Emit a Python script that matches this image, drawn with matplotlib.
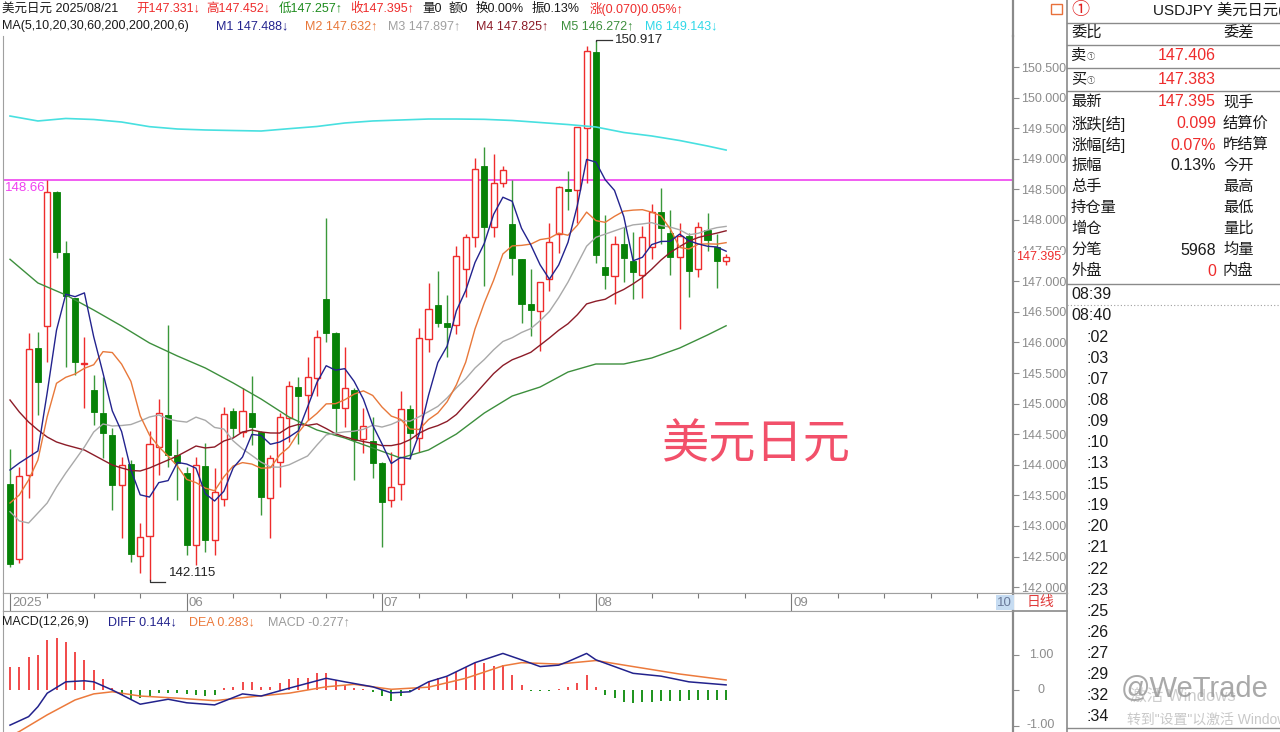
import numpy as np
import pandas as pd
import matplotlib
matplotlib.use("Agg")
import matplotlib.pyplot as plt
from matplotlib.patches import Rectangle
from matplotlib.lines import Line2D

plt.rcParams['font.family'] = ['Liberation Sans', 'Noto Sans CJK SC', 'DejaVu Sans']

# ---------------- data ----------------
opens = [143.681, 142.456, 143.833, 145.904, 146.268, 148.462, 147.466, 146.721, 145.647, 145.222,
         144.842, 144.487, 143.670, 144.008, 142.510, 142.842, 144.296, 144.814, 144.160, 143.861,
         142.690, 143.980, 142.771, 143.436, 144.884, 144.541, 144.851, 144.541, 143.462, 144.051,
         144.760, 145.276, 145.141, 145.423, 146.704, 146.158, 144.923, 145.222, 144.417, 144.394,
         144.025, 143.425, 143.681, 144.907, 144.433, 146.056, 146.611, 146.322, 146.284, 147.199,
         147.717, 148.882, 147.891, 148.609, 147.935, 147.358, 146.623, 146.513, 147.031, 147.766,
         148.502, 148.490, 149.508, 150.740, 147.227, 147.085, 147.608, 147.335, 147.101, 147.564,
         148.136, 147.792, 147.391, 147.739, 147.194, 147.837, 147.564, 147.331]
highs = [144.253, 143.969, 146.158, 146.175, 148.654, 148.470, 147.662, 146.730, 146.093, 145.467,
         145.440, 144.596, 144.132, 144.078, 143.054, 144.552, 145.070, 146.284, 144.417, 143.969,
         144.132, 144.361, 143.953, 144.949, 144.933, 145.250, 145.451, 144.550, 144.160, 144.851,
         145.374, 145.430, 145.766, 146.203, 148.028, 146.170, 145.930, 145.250, 144.923, 144.786,
         144.050, 144.214, 145.211, 144.977, 146.230, 146.966, 147.172, 146.775, 147.575, 147.766,
         149.008, 149.188, 149.078, 148.882, 148.654, 147.360, 147.194, 146.990, 147.946, 148.560,
         148.801, 149.520, 150.843, 150.917, 148.082, 147.739, 147.881, 147.809, 147.902, 148.261,
         148.518, 148.163, 147.956, 147.783, 147.972, 148.109, 147.771, 147.452]
lows = [142.335, 142.400, 143.453, 144.814, 145.685, 147.374, 145.603, 145.467, 144.923, 144.650,
        144.106, 143.261, 142.799, 142.417, 142.227, 142.115, 143.833, 143.969, 143.425, 142.526,
        142.363, 142.580, 142.526, 143.327, 144.459, 144.459, 144.324, 143.180, 142.799, 143.642,
        144.377, 144.335, 144.732, 145.124, 146.011, 144.515, 144.613, 143.752, 144.188, 143.779,
        142.662, 143.315, 143.425, 144.095, 144.214, 145.838, 146.257, 145.757, 146.132, 146.747,
        147.554, 146.917, 147.727, 148.544, 147.101, 146.312, 146.105, 145.859, 146.845, 147.466,
        148.163, 147.956, 148.600, 147.302, 146.868, 146.623, 146.992, 146.704, 146.730, 147.358,
        147.603, 147.101, 146.214, 146.747, 147.074, 147.498, 146.884, 147.257]
closes = [142.374, 143.817, 145.887, 145.358, 148.453, 147.482, 146.758, 145.685, 145.668, 144.868,
          144.515, 143.670, 143.997, 142.538, 142.825, 144.335, 144.851, 144.160, 144.025, 142.690,
          143.997, 142.771, 143.560, 144.825, 144.596, 144.884, 144.613, 143.479, 144.106, 144.776,
          145.288, 145.124, 145.440, 146.093, 146.149, 144.923, 145.250, 144.405, 144.634, 144.025,
          143.397, 143.642, 144.907, 144.515, 146.067, 146.541, 146.322, 146.247, 147.412, 147.717,
          148.828, 147.891, 148.609, 148.817, 147.384, 146.627, 146.529, 146.982, 147.645, 148.544,
          148.479, 149.515, 150.766, 147.428, 147.101, 147.608, 147.374, 147.155, 147.717, 148.136,
          147.864, 147.391, 147.739, 147.172, 147.881, 147.673, 147.330, 147.395]

# moving-average values visible before a full window is available
ma5_head = [143.915, 144.029, 144.127, 144.225]
ma10_head = [143.376, 143.507, 143.752, 144.078, 144.786, 145.332, 145.430, 145.484, 145.577]
ma20_head = [143.234, 143.082, 143.049, 143.212, 143.376, 143.637, 143.866, 144.078, 144.291, 144.536,
             144.667, 144.634, 144.642, 144.658, 144.716, 144.781, 144.814, 144.748, 144.716]
ma30_head = [145.059, 144.863, 144.699, 144.569, 144.454, 144.373, 144.324, 144.283, 144.242, 144.160,
             144.078, 143.997, 143.948, 143.907, 143.899, 143.948, 144.013, 144.078, 144.144, 144.225,
             144.307, 144.275, 144.291, 144.389, 144.438, 144.536, 144.569, 144.536, 144.520]
ma_sample_idx = [0, 3, 6, 9, 12, 15, 18, 21, 24, 27, 30, 33, 36, 39, 42, 45, 48, 51, 54, 57,
                 60, 63, 66, 69, 72, 75, 77]
ma60_vals = [147.358, 146.971, 146.775, 146.529, 146.268, 145.990, 145.778, 145.582, 145.337, 145.075,
             144.781, 144.569, 144.438, 144.275, 144.111, 144.242, 144.503, 144.846, 145.124, 145.271,
             145.516, 145.647, 145.647, 145.745, 145.908, 146.121, 146.272]
ma200_vals = [149.699, 149.618, 149.659, 149.642, 149.601, 149.525, 149.487, 149.471, 149.462, 149.454,
              149.492, 149.528, 149.585, 149.618, 149.634, 149.650, 149.650, 149.645, 149.626, 149.593,
              149.560, 149.520, 149.430, 149.373, 149.299, 149.209, 149.143]

macd_hist = [0.64, 0.66, 0.94, 1.00, 1.41, 1.46, 1.36, 1.08, 0.85, 0.56,
             0.30, 0.05, -0.14, -0.28, -0.23, -0.17, -0.09, -0.08, -0.08, -0.11,
             -0.14, -0.17, -0.14, 0.05, 0.09, 0.23, 0.23, 0.09, 0.09, 0.19,
             0.30, 0.33, 0.33, 0.47, 0.49, 0.28, 0.14, 0.05, 0.02, -0.05,
             -0.17, -0.30, -0.17, -0.05, 0.09, 0.23, 0.33, 0.36, 0.52, 0.64,
             0.75, 0.77, 0.68, 0.70, 0.42, 0.14, -0.03, -0.03, -0.03, 0.03,
             0.09, 0.19, 0.42, 0.08, -0.14, -0.23, -0.33, -0.38, -0.33, -0.33,
             -0.30, -0.30, -0.30, -0.28, -0.28, -0.28, -0.28, -0.277]
diff_idx = [0, 2, 3, 4, 6, 8, 9, 11, 14, 17, 19, 22, 25, 27, 30, 34, 36, 39, 41, 43, 45, 47,
            50, 53, 55, 57, 59, 60, 62, 63, 67, 70, 73, 77]
diff_vals = [-0.99, -0.75, -0.47, -0.09, 0.23, 0.26, 0.23, 0.00, -0.40, -0.26, -0.36, -0.42, -0.11,
             -0.17, 0.05, 0.33, 0.23, 0.09, -0.08, -0.05, 0.23, 0.39, 0.77, 1.03, 0.85, 0.66, 0.70,
             0.80, 1.03, 0.85, 0.47, 0.39, 0.23, 0.144]
dea_idx = [0, 1, 4, 7, 9, 11, 14, 18, 22, 26, 30, 34, 37, 41, 45, 49, 53, 55, 59, 63, 67, 72, 77]
dea_vals = [-1.30, -1.17, -0.70, -0.28, -0.11, -0.05, -0.17, -0.23, -0.30, -0.19, -0.09, 0.09, 0.16,
            0.02, 0.08, 0.33, 0.68, 0.77, 0.73, 0.83, 0.66, 0.45, 0.283]

month_labels = ['2025', '06', '07', '08', '09', '10']
month_idx = [0, 19, 40, 63, 84, 106]
week_idx = [4, 9, 14, 24, 29, 34, 39, 44, 49, 54, 59, 69, 74, 79, 89, 94, 99, 104]
hline_level = 148.66

# ---------------- layout helpers ----------------
W, H = 1280, 732
fig = plt.figure(figsize=(12.8, 7.32), dpi=100)
fig.patch.set_facecolor('white')


def fx(x):
    return x / W


def fy(y):
    return 1 - y / H


X0, XS = 10.0, 9.3          # pixel of first candle, pixels per candle
L_PX, R_PX = 3, 1013


def price_at(ypx):
    return 150.5 - (ypx - 67) / 61.2


xlim = ((L_PX - X0) / XS, (R_PX - X0) / XS)
RED = '#EE2C2C'
GRN_BODY = '#078207'
GRN_WICK = '#3A983A'
AXC = '#8C8C8C'
TXT = '#1A1A1A'
C_MA5, C_MA10, C_MA20, C_MA30, C_MA60, C_MA200 = '#23238E', '#E8783A', '#A9A9A9', '#8C1C28', '#3D8F3D', '#48E0E0'

o = np.array(opens); h = np.array(highs); l = np.array(lows); c = np.array(closes)
n = len(c)
idx = np.arange(n)

# ---------------- main price axes ----------------
ax = fig.add_axes([fx(L_PX), fy(593), (R_PX - L_PX) / W, (593 - 36) / H])
ax.set_xlim(*xlim)
ax.set_ylim(price_at(593), price_at(36))
ax.set_facecolor('white')
for s in ['top']:
    ax.spines[s].set_visible(False)
ax.spines['left'].set_color('#A0A0A0')
ax.spines['bottom'].set_color('#A0A0A0')
ax.spines['right'].set_color('#8A8A8A')
ax.spines['right'].set_linewidth(1.6)
ax.set_xticks([])
ax.yaxis.tick_right()
pt = np.arange(142.0, 150.51, 0.5)
ax.set_yticks(pt)
ax.set_yticklabels([f'{v:.3f}' for v in pt])
ax.tick_params(axis='y', length=4, color=AXC, labelcolor='#8C8C8C', labelsize=9, pad=2)

ax.axhline(hline_level, color='#F050F0', lw=1.3, zorder=1)
ax.text(xlim[0] + 0.25, hline_level - 0.14, f'{hline_level:.2f}', color='#F040F0', fontsize=9.5,
        va='center', ha='left', zorder=5)

up = c >= o
ax.vlines(idx[up], l[up], h[up], color=RED, lw=1.0, zorder=2)
ax.vlines(idx[~up], l[~up], h[~up], color=GRN_WICK, lw=1.0, zorder=2)
body_lo = np.minimum(o, c)
body_h = np.maximum(np.abs(c - o), 0.02)
ax.bar(idx[up], body_h[up], bottom=body_lo[up], width=0.65, facecolor='white', edgecolor=RED,
       linewidth=1.0, zorder=3)
ax.bar(idx[~up], body_h[~up], bottom=body_lo[~up], width=0.65, facecolor=GRN_BODY,
       edgecolor=GRN_BODY, linewidth=0.6, zorder=3)

cs = pd.Series(c)
ma5 = cs.rolling(5).mean().to_numpy(); ma5[:len(ma5_head)] = ma5_head
ma10 = cs.rolling(10).mean().to_numpy(); ma10[:len(ma10_head)] = ma10_head
ma20 = cs.rolling(20).mean().to_numpy(); ma20[:len(ma20_head)] = ma20_head
ma30 = cs.rolling(30).mean().to_numpy(); ma30[:len(ma30_head)] = ma30_head

ax.plot(ma_sample_idx, ma200_vals, color=C_MA200, lw=1.2, zorder=4)
ax.plot(ma_sample_idx, ma60_vals, color=C_MA60, lw=1.0, zorder=4)
ax.plot(idx, ma30, color=C_MA30, lw=1.0, zorder=4)
ax.plot(idx, ma20, color=C_MA20, lw=1.0, zorder=4)
ax.plot(idx, ma10, color=C_MA10, lw=1.0, zorder=4)
ax.plot(idx, ma5, color=C_MA5, lw=1.0, zorder=5)

hi_i = int(np.argmax(h))
ax.plot([hi_i, hi_i, hi_i + 1.7], [h[hi_i], h[hi_i] + 0.02, h[hi_i] + 0.02], color='#333333', lw=0.9, zorder=5)
ax.text(hi_i + 2.0, h[hi_i] + 0.02, f'{h[hi_i]:.3f}', fontsize=9.5, color='#222222', va='center', ha='left')
lo_i = int(np.argmin(l))
ax.plot([lo_i, lo_i, lo_i + 1.7], [l[lo_i], l[lo_i] - 0.03, l[lo_i] - 0.03], color='#333333', lw=0.9, zorder=5)
ax.text(lo_i + 2.1, l[lo_i] + 0.12, f'{l[lo_i]:.3f}', fontsize=9.5, color='#222222', va='center', ha='left')

ax.text(0.745, 0.265, '美元日元', transform=ax.transAxes, fontsize=34, color='#F2506A',
        ha='center', va='center', family=['Noto Sans CJK SC'])

# ---------------- date strip ----------------
axd = fig.add_axes([fx(L_PX), fy(611), (R_PX - L_PX) / W, 18 / H])
axd.set_xlim(*xlim)
axd.set_ylim(0, 1)
axd.set_xticks([]); axd.set_yticks([])
for s in axd.spines.values():
    s.set_color('#A0A0A0')
axd.spines['right'].set_color('#8A8A8A'); axd.spines['right'].set_linewidth(1.6)
axd.vlines(week_idx, 0.7, 1.0, color='#7A7A7A', lw=0.8)
axd.vlines(month_idx[:-1], 0.0, 1.0, color='#7A7A7A', lw=0.8)
for lab, mi in zip(month_labels, month_idx):
    if lab == month_labels[-1]:
        axd.text(mi + 0.15, 0.45, lab, fontsize=9.5, color='#6A7A9A', va='center', ha='left',
                 bbox=dict(facecolor='#C6DCF2', edgecolor='none', pad=1.0))
    else:
        axd.text(mi + 0.2, 0.45, lab, fontsize=9.5, color='#8C8C8C', va='center', ha='left')

# ---------------- MACD axes ----------------
axm = fig.add_axes([fx(L_PX), 0.0, (R_PX - L_PX) / W, 121 / H])
axm.set_xlim(*xlim)
zero_px, unit_px = 690, 35.5
axm.set_ylim((zero_px - 732) / unit_px, (zero_px - 611) / unit_px)
axm.spines['bottom'].set_visible(False)
axm.spines['top'].set_color('#A0A0A0')
axm.spines['left'].set_color('#A0A0A0')
axm.spines['right'].set_color('#8A8A8A'); axm.spines['right'].set_linewidth(1.6)
axm.set_xticks([])
axm.yaxis.tick_right()
axm.set_yticks([1, 0, -1])
axm.set_yticklabels(['', '', ''])
axm.tick_params(axis='y', length=4, color=AXC)
hv = np.array(macd_hist)
axm.vlines(idx[hv >= 0], 0, hv[hv >= 0], color='#F03C3C', lw=1.3)
axm.vlines(idx[hv < 0], 0, hv[hv < 0], color='#0A8A0A', lw=1.3)
axm.plot(dea_idx, dea_vals, color='#EC7A3C', lw=1.1)
axm.plot(diff_idx, diff_vals, color='#22228C', lw=1.1)
for v, s in [(1, '1.00'), (0, '0'), (-1, '-1.00')]:
    fig.text(fx(1041), fy(zero_px - v * unit_px), s, fontsize=9, color='#8C8C8C', ha='center', va='center')

# ---------------- header texts ----------------
hdr1 = [(2, '美元日元 2025/08/21', TXT), (136, '开147.331↓', RED), (206, '高147.452↓', RED),
        (279, '低147.257↑', '#1E8C1E'), (350, '收147.395↑', RED), (422, '量0', TXT), (449, '额0', TXT),
        (476, '换0.00%', TXT), (532, '振0.13%', TXT), (590, '涨(0.070)0.05%↑', RED)]
for x, s, col in hdr1:
    fig.text(fx(x), fy(9), s, fontsize=9, color=col, ha='left', va='center')
hdr2 = [(2, 'MA(5,10,20,30,60,200,200,200,6)', TXT), (216, 'M1 147.488↓', C_MA5),
        (305, 'M2 147.632↑', C_MA10), (388, 'M3 147.897↑', '#A0A0A0'), (476, 'M4 147.825↑', C_MA30),
        (561, 'M5 146.272↑', C_MA60), (645, 'M6 149.143↓', '#30D8E8')]
for x, s, col in hdr2:
    fig.text(fx(x), fy(26), s, fontsize=9, color=col, ha='left', va='center')
hdr3 = [(2, 'MACD(12,26,9)', TXT), (108, 'DIFF 0.144↓', '#22228C'), (189, 'DEA 0.283↓', '#EC7A3C'),
        (268, 'MACD -0.277↑', '#9A9A9A')]
for x, s, col in hdr3:
    fig.text(fx(x), fy(622), s, fontsize=9, color=col, ha='left', va='center')

# current price tag on the axis
fig.text(fx(1016), fy(257), '147.395', fontsize=9, color=RED, ha='left', va='center',
         bbox=dict(facecolor='white', edgecolor='none', pad=0.6))

# ---------------- frame lines outside axes ----------------
def hline(y, x1, x2, **kw):
    fig.add_artist(Line2D([fx(x1), fx(x2)], [fy(y), fy(y)], **kw))


def vline(x, y1, y2, **kw):
    fig.add_artist(Line2D([fx(x), fx(x)], [fy(y1), fy(y2)], **kw))


vline(R_PX, 0, 36, color='#8A8A8A', lw=1.6)
vline(1067, 0, 732, color='#8A8A8A', lw=1.2)
hline(593, R_PX, 1067, color='#A0A0A0', lw=1)
hline(611, R_PX, 1067, color='#8A8A8A', lw=1.2)
fig.text(fx(1040), fy(602), '日线', fontsize=10, color='#E03C3C', ha='center', va='center')
fig.add_artist(Rectangle((fx(1051), fy(14)), 11 / W, 10 / H, fill=False, edgecolor='#E8703A', lw=1))

for y in [22.5, 45, 68, 90.5, 283.5]:
    hline(y, 1067, 1280, color='#8A8A8A', lw=1.0)
hline(305, 1067, 1280, color='#A0A0A0', lw=0.8, linestyle=(0, (1, 2)))
hline(728, 1067, 1280, color='#8A8A8A', lw=1.0)

# ---------------- right info panel ----------------
PF = 11
fig.text(fx(1071), fy(10), '①', fontsize=13, color='#E02020', ha='left', va='center',
         family=['Noto Sans CJK SC', 'DejaVu Sans'])
fig.text(fx(1153), fy(10), 'USDJPY 美元日元(', fontsize=PF, color=TXT, ha='left', va='center')
left_rows = [(33, '委比'), (56, '卖'), (79, '买'), (102, '最新'), (124, '涨跌[结]'), (145, '涨幅[结]'),
             (166, '振幅'), (187, '总手'), (208, '持仓量'), (229, '增仓'), (250, '分笔'), (271, '外盘')]
for y, s in left_rows:
    fig.text(fx(1071), fy(y), s, fontsize=PF, color=TXT, ha='left', va='center')
for y in [56, 79]:
    fig.text(fx(1087), fy(y + 1), '①', fontsize=6, color='#555555', ha='left', va='center',
             family=['Noto Sans CJK SC', 'DejaVu Sans'])
right_rows = [(33, '委差'), (102, '现手'), (124, '结算价'), (145, '昨结算'), (166, '今开'), (187, '最高'),
              (208, '最低'), (229, '量比'), (250, '均量'), (271, '内盘')]
for y, s in right_rows:
    fig.text(fx(1223), fy(y), s, fontsize=PF, color=TXT, ha='left', va='center')
vals = [(56, '147.406', RED), (79, '147.383', RED), (102, '147.395', RED), (124, '0.099', RED),
        (145, '0.07%', RED), (166, '0.13%', TXT), (250, '5968', TXT), (271, '0', RED)]
for y, s, col in vals:
    fig.text(fx(1216), fy(y), s, fontsize=PF + 0.5, color=col, ha='right', va='center')

fig.text(fx(1071), fy(295), '08:39', fontsize=PF + 0.5, color=TXT, ha='left', va='center')
fig.text(fx(1071), fy(316), '08:40', fontsize=PF + 0.5, color=TXT, ha='left', va='center')
mins = [':02', ':03', ':07', ':08', ':09', ':10', ':13', ':15', ':19', ':20', ':21', ':22', ':23',
        ':25', ':26', ':27', ':29', ':32', ':34']
for k, s in enumerate(mins):
    fig.text(fx(1087), fy(337 + 21.1 * k), s, fontsize=PF + 0.5, color=TXT, ha='left', va='center')

# watermarks
fig.text(fx(1130), fy(697), '激活 Windows', fontsize=12, color='#C8C8C8', ha='left', va='center', alpha=0.9)
fig.text(fx(1127), fy(720), '转到"设置"以激活 Windows', fontsize=10, color='#C8C8C8', ha='left', va='center')
fig.text(fx(1195), fy(689), '@WeTrade', fontsize=21, color='#9A9A9A', ha='center', va='center', alpha=0.85)

fig.savefig('out.png', dpi=100, facecolor='white')
